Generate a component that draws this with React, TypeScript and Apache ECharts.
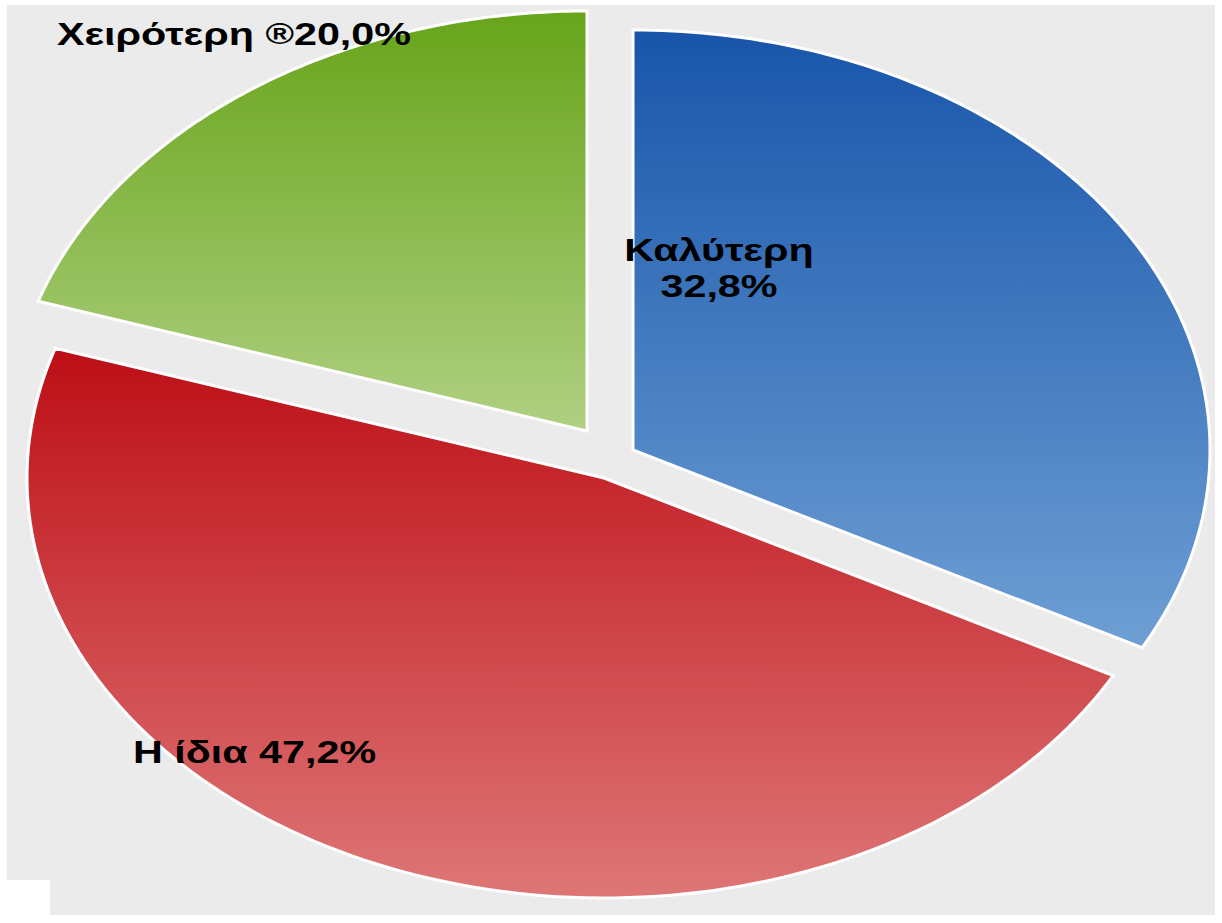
import React, { useEffect, useRef } from "react";
import * as echarts from "echarts";

// ---- data ----
const categories = ["Καλύτερη", "Η ίδια", "Χειρότερη"];
const values = [32.8, 47.2, 20.0];

// ---- styling (not data) ----
const sliceColors = [
  ["#1855aa", "#6e9fd4"],
  ["#bd0e16", "#de7676"],
  ["#67a41a", "#b0d082"],
];
const explodeOffsets = [
  [25, -5],
  [-4, 23],
  [-21, -24],
];
const labelLayout = [
  { x: 719, y: 268, align: "center" },
  { x: 133, y: 752, align: "left" },
  { x: 57, y: 34, align: "left" },
];

const fmt = (v: number) => v.toFixed(1).replace(".", ",") + "%";

export default function App() {
  const ref = useRef<HTMLDivElement>(null);
  useEffect(() => {
    if (!ref.current) return;
    const chart = echarts.init(ref.current, null, { renderer: "svg" });
    const total = values.reduce((a, b) => a + b, 0);
    const cumul: number[] = [];
    values.reduce((acc, v) => {
      cumul.push(acc);
      return acc + v;
    }, 0);

    const CX = 608;
    const CY = 455;
    const RX = 577;
    const RY = 420;
    const TEXT_SCALE = 1.29;

    const labelText = (i: number) => {
      if (i === 0) return `{b|${categories[0]}}\n{b|${fmt(values[0])}}`;
      if (i === 1) return `{b|${categories[1]} ${fmt(values[1])}}`;
      return `{b|${categories[2]} }{r|®}{b|${fmt(values[2])}}`;
    };

    chart.setOption({
      animation: false,
      backgroundColor: "#ffffff",
      graphic: [
        {
          type: "polygon",
          z: -10,
          silent: true,
          shape: {
            points: [
              [7, 5],
              [1215, 5],
              [1215, 915],
              [50, 915],
              [50, 880],
              [7, 880],
            ],
          },
          style: { fill: "#ebebeb" },
        },
      ],
      series: [
        {
          type: "custom",
          coordinateSystem: "none",
          data: values.map((v, i) => ({ value: v, name: categories[i] })),
          renderItem: (params: any, api: any) => {
            const i = params.dataIndex;
            const v = api.value(0);
            const a0 = (cumul[i] / total) * Math.PI * 2;
            const a1 = ((cumul[i] + v) / total) * Math.PI * 2;
            const ax = CX + explodeOffsets[i][0];
            const ay = CY + explodeOffsets[i][1];
            const pts: number[][] = [[ax, ay]];
            const N = 120;
            for (let k = 0; k <= N; k++) {
              const t = a0 + ((a1 - a0) * k) / N;
              pts.push([ax + RX * Math.sin(t), ay - RY * Math.cos(t)]);
            }
            const lay = labelLayout[i];
            return {
              type: "group",
              children: [
                {
                  type: "polygon",
                  shape: { points: pts },
                  style: {
                    fill: new echarts.graphic.LinearGradient(0, 0, 0, 1, [
                      { offset: 0, color: sliceColors[i][0] },
                      { offset: 1, color: sliceColors[i][1] },
                    ]),
                    stroke: "#ffffff",
                    lineWidth: 3,
                  },
                },
                {
                  type: "text",
                  x: lay.x,
                  y: lay.y,
                  scaleX: TEXT_SCALE,
                  z2: 10,
                  style: {
                    text: labelText(i),
                    align: lay.align,
                    verticalAlign: "middle",
                    lineHeight: 36,
                    rich: {
                      b: {
                        fontFamily: "Liberation Sans, Arial, sans-serif",
                        fontWeight: "bold",
                        fontSize: 32,
                        color: "#111111",
                        lineHeight: 36,
                      },
                      r: {
                        fontFamily: "Liberation Sans, Arial, sans-serif",
                        fontWeight: "bold",
                        fontSize: 30,
                        color: "#aaaaaa",
                        lineHeight: 36,
                      },
                    },
                  },
                },
              ],
            };
          },
        },
      ],
    });
    return () => chart.dispose();
  }, []);
  return (
    <div
      ref={ref}
      style={{ position: "fixed", left: 0, top: 0, width: 1222, height: 923 }}
    />
  );
}
